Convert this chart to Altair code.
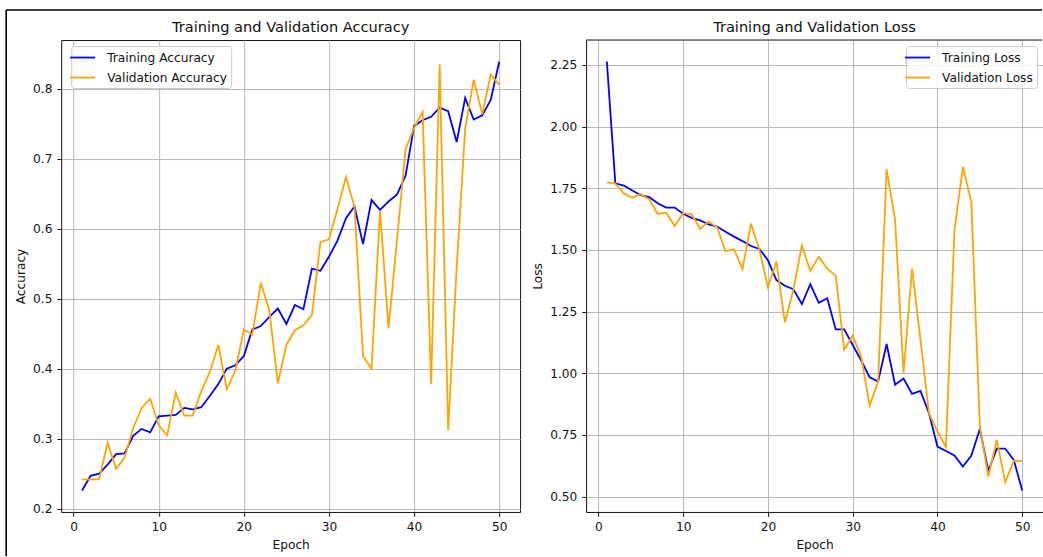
import altair as alt
import pandas as pd

# Per-epoch training history (50 epochs)
epochs = list(range(1, 51))

train_acc = [0.226, 0.247, 0.250, 0.263, 0.278, 0.279, 0.304, 0.314, 0.309, 0.332,
             0.333, 0.334, 0.344, 0.342, 0.345, 0.361, 0.378, 0.400, 0.405, 0.418,
             0.456, 0.461, 0.474, 0.486, 0.464, 0.491, 0.485, 0.543, 0.540, 0.560,
             0.583, 0.615, 0.632, 0.578, 0.641, 0.627, 0.639, 0.649, 0.676, 0.747,
             0.755, 0.760, 0.773, 0.768, 0.724, 0.787, 0.756, 0.762, 0.784, 0.839]

val_acc = [0.242, 0.242, 0.242, 0.294, 0.257, 0.273, 0.315, 0.344, 0.357, 0.319,
           0.305, 0.366, 0.333, 0.333, 0.368, 0.395, 0.434, 0.371, 0.397, 0.456,
           0.449, 0.523, 0.483, 0.379, 0.434, 0.455, 0.462, 0.477, 0.581, 0.585,
           0.628, 0.674, 0.631, 0.418, 0.400, 0.626, 0.458, 0.585, 0.714, 0.744,
           0.767, 0.378, 0.835, 0.312, 0.545, 0.743, 0.813, 0.764, 0.820, 0.806]

train_loss = [2.264, 1.770, 1.761, 1.741, 1.722, 1.714, 1.689, 1.672, 1.672, 1.647,
              1.630, 1.620, 1.604, 1.595, 1.574, 1.554, 1.536, 1.516, 1.504, 1.459,
              1.378, 1.355, 1.341, 1.281, 1.361, 1.286, 1.304, 1.178, 1.178, 1.115,
              1.052, 0.984, 0.967, 1.119, 0.954, 0.979, 0.917, 0.929, 0.838, 0.703,
              0.685, 0.667, 0.622, 0.667, 0.774, 0.605, 0.695, 0.695, 0.649, 0.525]

val_loss = [1.774, 1.769, 1.730, 1.712, 1.726, 1.705, 1.646, 1.651, 1.597, 1.649,
            1.645, 1.586, 1.615, 1.592, 1.495, 1.503, 1.422, 1.607, 1.500, 1.349,
            1.453, 1.207, 1.338, 1.518, 1.415, 1.472, 1.424, 1.395, 1.095, 1.153,
            1.068, 0.869, 0.967, 1.827, 1.622, 1.003, 1.424, 1.135, 0.838, 0.764,
            0.701, 1.578, 1.838, 1.693, 0.784, 0.582, 0.730, 0.559, 0.645, 0.645]

acc_names = ["Training Accuracy", "Validation Accuracy"]
loss_names = ["Training Loss", "Validation Loss"]
line_colors = ["#0000ff", "#ffa500"]

x_ticks = [0, 10, 20, 30, 40, 50]
acc_ticks = [0.2, 0.3, 0.4, 0.5, 0.6, 0.7, 0.8]
loss_ticks = [0.5, 0.75, 1.0, 1.25, 1.5, 1.75, 2.0, 2.25]

FONT = "DejaVu Sans"
INK = "#111111"
SMALL = 12.2
BIG = 14.6
LEFT_W = 459
RIGHT_W = 457
PLOT_H = 472
GAP = 66


def long_table(train, val, names):
    return pd.DataFrame({
        "Epoch": epochs + epochs,
        "value": train + val,
        "series": [names[0]] * len(train) + [names[1]] * len(val),
    })


def padded(values, frac=0.05):
    lo, hi = min(values), max(values)
    pad = (hi - lo) * frac
    return [lo - pad, hi + pad]


one_row = pd.DataFrame({"k": [0]})
frame_line = alt.Chart(one_row).mark_rule(color="black", strokeWidth=1.6)
spine = alt.Chart(one_row).mark_rule(color=INK, strokeWidth=1)


def panel(train, val, names, title, ylabel, y_ticks, y_format, y_title_x,
          width, legend_x, boxed):
    df = long_table(train, val, names)
    axis_common = dict(domain=not boxed, domainColor=INK, domainWidth=1)
    x = alt.X("Epoch:Q",
              scale=alt.Scale(domain=padded(epochs), nice=False, zero=False),
              axis=alt.Axis(values=x_ticks, title="Epoch", **axis_common))
    y = alt.Y("value:Q",
              scale=alt.Scale(domain=padded(train + val), nice=False, zero=False),
              axis=alt.Axis(values=y_ticks, format=y_format, title=ylabel,
                            titleX=y_title_x, **axis_common))
    color = alt.Color(
        "series:N",
        scale=alt.Scale(domain=names, range=line_colors),
        legend=alt.Legend(
            title=None, orient="none", legendX=legend_x, legendY=6,
            symbolType="M-2,0L2,0", symbolSize=156, symbolStrokeWidth=1.8,
            labelFont=FONT, labelFontSize=SMALL, labelColor=INK, labelOffset=17,
            padding=4, rowPadding=6, fillColor="rgba(255,255,255,0.8)",
            strokeColor="#cccccc", cornerRadius=3,
        ),
    )
    lines = alt.Chart(df).mark_line(strokeWidth=1.8).encode(
        x=x, y=y, color=color, order="Epoch:Q")
    layers = [lines]
    if boxed:
        layers.append(frame_line.encode(x=alt.value(-55), y=alt.value(-30),
                                        y2=alt.value(516)))
        layers.append(frame_line.encode(x=alt.value(-55), x2=alt.value(width + 33),
                                        y=alt.value(-30)))
        view = alt.ViewBackground(stroke=INK, strokeWidth=1)
    else:
        layers.append(frame_line.encode(x=alt.value(-33), x2=alt.value(width - 1),
                                        y=alt.value(-30)))
        layers.append(spine.encode(x=alt.value(0), x2=alt.value(width - 1),
                                   y=alt.value(0)))
        view = alt.ViewBackground(strokeOpacity=0)
    return alt.layer(*layers).properties(
        width=width, height=PLOT_H, view=view,
        title=alt.TitleParams(title, anchor="middle", frame="group",
                              fontSize=BIG, font=FONT, fontWeight="normal",
                              color=INK, baseline="alphabetic", offset=-37.7),
    )


acc_panel = panel(train_acc, val_acc, acc_names, "Training and Validation Accuracy",
                  "Accuracy", acc_ticks, ".1f", -37, LEFT_W, 10, True)
loss_panel = panel(train_loss, val_loss, loss_names, "Training and Validation Loss",
                   "Loss", loss_ticks, ".2f", -45, RIGHT_W, 320, False)

chart = (
    alt.hconcat(acc_panel, loss_panel, spacing=GAP, bounds="flush")
    .resolve_scale(color="independent")
    .properties(padding={"left": 4.2, "top": 8, "right": 0, "bottom": 0},
                background="white")
    .configure(font=FONT)
    .configure_axis(
        grid=True, gridColor="#b8b8b8", gridWidth=1,
        tickColor=INK, tickSize=4.3, tickWidth=1,
        labelFont=FONT, labelFontSize=SMALL, labelColor=INK,
        titleFont=FONT, titleFontSize=SMALL, titleFontWeight="normal", titleColor=INK,
    )
    .configure_axisX(labelBaseline="alphabetic", labelPadding=14.5,
                     titleY=36.6, titleBaseline="alphabetic", labelFlush=False)
    .configure_axisY(labelPadding=5, titleY=PLOT_H / 2, titleAngle=270,
                     titleBaseline="alphabetic", titleAlign="center")
)

chart.save("out.html", embed_options={"renderer": "svg", "actions": False})
